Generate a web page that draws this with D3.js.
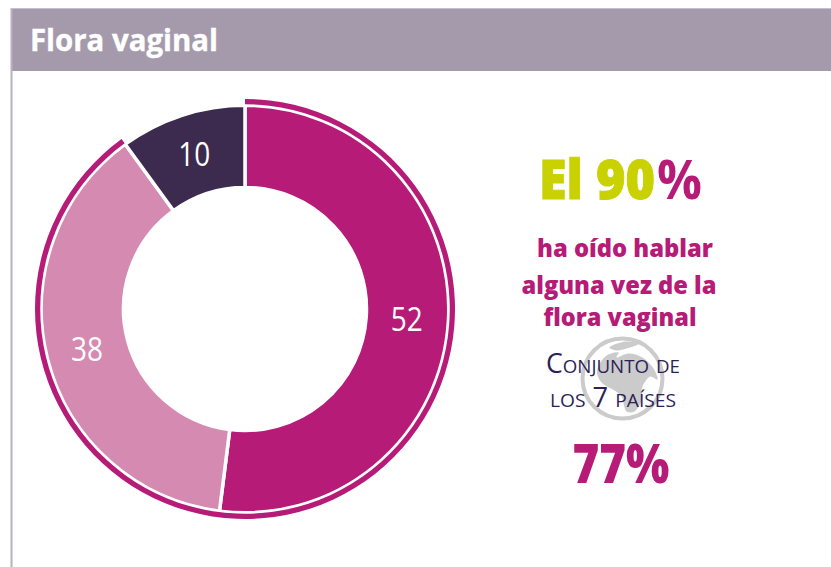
<!DOCTYPE html>
<html><head><meta charset="utf-8">
<script src="https://cdn.jsdelivr.net/npm/d3@7"></script>
<style>html,body{margin:0;padding:0;background:#fff;overflow:hidden}svg{display:block}text{font-family:"Open Sans","Noto Sans",sans-serif}</style>
</head><body><svg id="c" width="831" height="567"></svg>
<script>
const categories = ["Sí, sabe", "Ha oído", "No"];
const values = [52, 38, 10];
const sliceColors = ["#b51b77", "#d58ab2", "#3d2b4f"];
const titleText = "Flora vaginal";
const headlineParts = ["El 90", "%"];
const bodyLines = ["ha oído hablar", "alguna vez de la", "flora vaginal"];
const scopeLines = ["Conjunto de", "los 7 países"];
const totalText = "77%";
const awareShare = 90;

const svg = d3.select("#c");
svg.append("rect").attr("x",11).attr("y",8).attr("width",820).attr("height",63).attr("fill","#a49aac");
svg.append("line").attr("x1",11.5).attr("x2",11.5).attr("y1",8).attr("y2",567).attr("stroke","#b7b1bf").attr("stroke-width",2);
svg.append("line").attr("x1",11).attr("x2",831).attr("y1",8.5).attr("y2",8.5).attr("stroke","#c4bfca").attr("stroke-width",1);
svg.append("text").text(titleText).attr("x",30).attr("y",51).attr("fill","#fff").attr("font-size",31).attr("font-weight",700)
  .attr("stroke","#fff").attr("stroke-width",0.4).attr("textLength",188).attr("lengthAdjust","spacingAndGlyphs");

const g = svg.append("g").attr("transform","translate(245,309)");
const pie = d3.pie().sort(null)(values);
const arc = d3.arc().innerRadius(121.5).outerRadius(203.75);
g.selectAll("path.s").data(pie).join("path").attr("class","s").attr("d",arc)
  .attr("fill",(d,i)=>sliceColors[i]).attr("stroke","#fff").attr("stroke-width",3.5);
g.selectAll("text").data(pie).join("text").text(d=>d.data)
  .attr("transform",d=>{const c=arc.centroid(d);return `translate(${c[0]-0.5},${c[1]})`;})
  .attr("dy","0.36em").attr("text-anchor","middle").attr("fill","#fff").attr("font-size",32)
  .attr("textLength",32).attr("lengthAdjust","spacingAndGlyphs");
const share = d3.scaleLinear().domain([0,100]).range([0,2*Math.PI]);
g.append("path").attr("fill","#b51b77").attr("d",d3.arc().innerRadius(204.75).outerRadius(210).startAngle(share(0)).endAngle(share(awareShare))());

// globe watermark
const globe = svg.append("g").attr("transform","translate(622.5,378.5)");
globe.append("circle").attr("r",40).attr("fill","#fff").attr("stroke","#cbcbcb").attr("stroke-width",4);
const landMain = [[-25,-10],[-16,-23],[-4,-26],[-6,-21],[6,-25],[20,-21],[31,-10],[35,1],[28,-2],[22,4],[19,12],[20,19],[12,33],[4,33],[-1,18],[-8,12],[-20,5],[-25,-3]];
const landCap = [[-13,-31],[3,-37],[17,-35],[4,-30],[-6,-28]];
const landLine = d3.line().curve(d3.curveCatmullRomClosed.alpha(0.5));
globe.selectAll("path").data([landMain,landCap]).join("path").attr("d",d=>landLine(d)).attr("fill","#cbcbcb");

const rt = svg.append("g");
function squeezed(text, x, w, fill, weight, stroke){
  const t = rt.append("text").text(text).attr("fill",fill).attr("font-size",54).attr("font-weight",weight);
  if(stroke) t.attr("stroke",fill).attr("stroke-width",stroke);
  const k = w / t.node().getComputedTextLength();
  t.attr("transform",`translate(${x},199) scale(${k},1)`);
}
squeezed(headlineParts[0], 539, 116, "#c9d200", 800, 1);
squeezed(headlineParts[1], 657, 45, "#b51b77", 700, 0);
const bodyX=[625,619,620], bodyY=[257,294,326], bodyW=[176,195,153];
rt.selectAll("text.b").data(bodyLines).join("text").attr("class","b").text(d=>d).attr("text-anchor","middle")
  .attr("x",(d,i)=>bodyX[i]).attr("y",(d,i)=>bodyY[i]).attr("fill","#b51b77").attr("font-size",25).attr("font-weight",800)
  .attr("textLength",(d,i)=>bodyW[i]).attr("lengthAdjust","spacingAndGlyphs");
const scX=[613,613], scY=[373,407], scW=[134,126];
rt.selectAll("text.sc").data(scopeLines).join("text").attr("class","sc").text(d=>d).attr("text-anchor","middle")
  .attr("x",(d,i)=>scX[i]).attr("y",(d,i)=>scY[i]).attr("fill","#2e1f57").attr("font-size",27).attr("font-variant","small-caps")
  .attr("textLength",(d,i)=>scW[i]).attr("lengthAdjust","spacingAndGlyphs");
rt.append("text").text(totalText).attr("x",621).attr("y",483).attr("text-anchor","middle").attr("fill","#b51b77").attr("font-size",54).attr("font-weight",800)
  .attr("textLength",97).attr("lengthAdjust","spacingAndGlyphs");
</script></body></html>
